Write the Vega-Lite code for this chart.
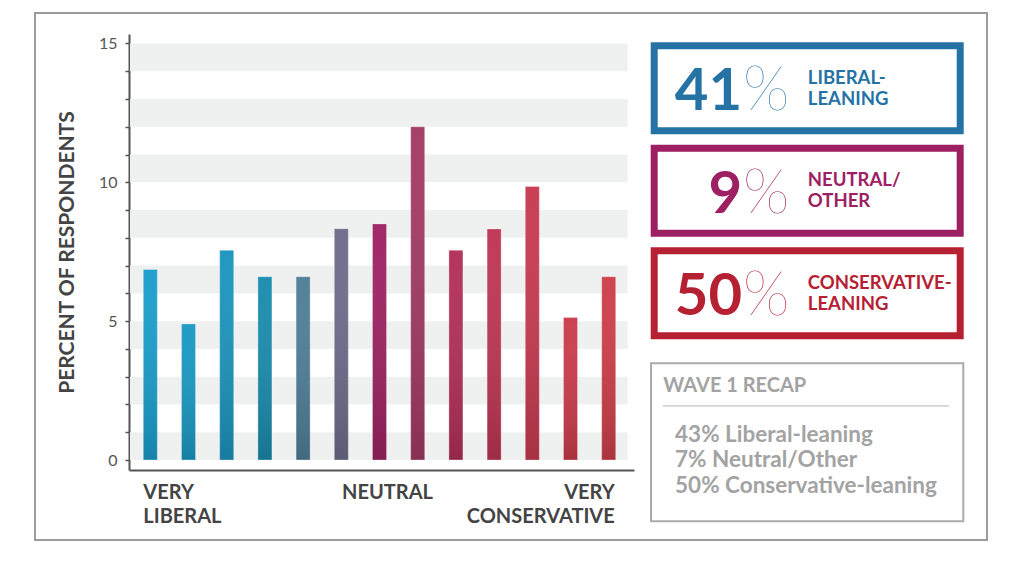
{
  "$schema": "https://vega.github.io/schema/vega-lite/v6.json",
  "width": 952,
  "height": 527,
  "autosize": {"type": "none"},
  "padding": {"left": 35, "top": 13, "right": 37, "bottom": 32},
  "background": "white",
  "config": {
    "font": "Lato",
    "view": {"stroke": "#9b9b9b", "strokeWidth": 2}
  },
  "datasets": {
    "bars": [
      {"position": 1, "pct": 6.86},
      {"position": 2, "pct": 4.9},
      {"position": 3, "pct": 7.55},
      {"position": 4, "pct": 6.6},
      {"position": 5, "pct": 6.6},
      {"position": 6, "pct": 8.33},
      {"position": 7, "pct": 8.5},
      {"position": 8, "pct": 12.0},
      {"position": 9, "pct": 7.55},
      {"position": 10, "pct": 8.32},
      {"position": 11, "pct": 9.85},
      {"position": 12, "pct": 5.13},
      {"position": 13, "pct": 6.6}
    ],
    "stripes": [
      {"from": 0, "to": 1}, {"from": 2, "to": 3}, {"from": 4, "to": 5}, {"from": 6, "to": 7},
      {"from": 8, "to": 9}, {"from": 10, "to": 11}, {"from": 12, "to": 13}, {"from": 14, "to": 15}
    ],
    "wave2": [
      {"group": "Liberal-leaning", "pct": 41, "label": ["LIBERAL-", "LEANING"]},
      {"group": "Neutral/Other", "pct": 9, "label": ["NEUTRAL/", "OTHER"]},
      {"group": "Conservative-leaning", "pct": 50, "label": ["CONSERVATIVE-", "LEANING"]}
    ],
    "wave1": [
      {"group": "Liberal-leaning", "pct": 43, "text": "43% Liberal-leaning"},
      {"group": "Neutral/Other", "pct": 7, "text": "7% Neutral/Other"},
      {"group": "Conservative-leaning", "pct": 50, "text": "50% Conservative-leaning"}
    ]
  },
  "layer": [
    {
      "layer": [
        {
          "data": {"name": "stripes"},
          "mark": {"type": "rect", "color": "#eff1f1"},
          "encoding": {
            "x": {"datum": 0, "type": "quantitative", "scale": {"domain": [0, 1], "range": [95, 592.7]}, "axis": null},
            "x2": {"datum": 1},
            "y": {"field": "from", "type": "quantitative",
              "scale": {"domain": [-0.36, 15.34], "range": [457, 21], "nice": false, "zero": false},
              "axis": {"title": "PERCENT OF RESPONDENTS", "titleFont": "Lato", "titleFontSize": 21, "titleFontWeight": "bold", "titleColor": "#444444", "titlePadding": 21,
                "values": [0,1,2,3,4,5,6,7,8,9,10,11,12,13,14,15],
                "labelExpr": "datum.value % 5 == 0 ? datum.label : ''",
                "labelFontSize": 16, "labelColor": "#555555", "labelPadding": 8, "labelOverlap": false, "labelFlush": false,
                "tickSize": 4, "tickColor": "#555555", "tickWidth": 1.5, "domainColor": "#555555", "domainWidth": 2, "grid": false, "offset": -94}},
            "y2": {"field": "to"}
          }
        },
        {
          "data": {"name": "bars"},
          "encoding": {
            "x": {"field": "position", "type": "ordinal",
              "scale": {"type": "band", "range": [94, 599], "paddingInner": 0.6335, "paddingOuter": 0.4267, "align": 0.439},
              "axis": {"title": null, "labelAngle": 0, "labelBaseline": "top",
                "labelExpr": "datum.value == 1 ? ['VERY', 'LIBERAL'] : datum.value == 7 ? 'NEUTRAL' : datum.value == 13 ? ['VERY', 'CONSERVATIVE'] : ''",
                "labelAlign": {"condition": [{"test": "datum.value == 1", "value": "left"}, {"test": "datum.value == 13", "value": "right"}], "value": "center"},
                "labelOffset": {"condition": [{"test": "datum.value == 1", "value": -7}, {"test": "datum.value == 13", "value": 6}], "value": 8},
                "labelFontSize": 20, "labelFontWeight": "bold", "labelColor": "#444444", "labelPadding": 12, "labelLineHeight": 24.6, "labelOverlap": false,
                "ticks": false, "tickSize": 0, "domainColor": "#555555", "domainWidth": 2, "offset": -70}},
            "y": {"field": "pct", "type": "quantitative",
              "scale": {"domain": [-0.36, 15.34], "range": [457, 21], "nice": false, "zero": false},
              "axis": {"title": "PERCENT OF RESPONDENTS", "titleFont": "Lato", "titleFontSize": 21, "titleFontWeight": "bold", "titleColor": "#444444", "titlePadding": 21,
                "values": [0,1,2,3,4,5,6,7,8,9,10,11,12,13,14,15],
                "labelExpr": "datum.value % 5 == 0 ? datum.label : ''",
                "labelFontSize": 16, "labelColor": "#555555", "labelPadding": 8, "labelOverlap": false, "labelFlush": false,
                "tickSize": 4, "tickColor": "#555555", "tickWidth": 1.5, "domainColor": "#555555", "domainWidth": 2, "grid": false, "offset": -94}},
            "y2": {"datum": 0}
          },
          "layer": [
            {
              "mark": {"type": "bar"},
              "encoding": {
                "color": {"field": "position", "type": "ordinal", "legend": null,
                  "scale": {"domain": [1,2,3,4,5,6,7,8,9,10,11,12,13],
                    "range": ["#1a9ecb", "#1a99c3", "#1b95bd", "#1a8cae", "#4f7e98", "#6f6c8c", "#9e2363", "#a33a64", "#b22f59", "#be3554", "#c83a50", "#cb3c4b", "#cd3f49"]}}
              }
            },
            {
              "mark": {"type": "bar", "stroke": "white", "strokeOpacity": 0.3, "strokeWidth": 1,
                "color": {"gradient": "linear", "x1": 0, "y1": 0, "x2": 0, "y2": 1,
                  "stops": [{"offset": 0, "color": "rgba(255,255,255,0.03)"}, {"offset": 1, "color": "rgba(0,0,0,0.17)"}]}}
            }
          ]
        }
      ],
      "resolve": {"scale": {"x": "independent"}, "axis": {"x": "independent"}}
    },
    {
      "data": {"name": "wave2"},
      "encoding": {
        "y": {"field": "group", "type": "nominal", "axis": null,
          "scale": {"type": "band", "domain": ["Liberal-leaning", "Neutral/Other", "Conservative-leaning"], "range": [32.8, 322.8], "paddingInner": 0.171, "paddingOuter": 0}},
        "color": {"field": "group", "type": "nominal", "legend": null,
          "scale": {"domain": ["Liberal-leaning", "Neutral/Other", "Conservative-leaning"], "range": ["#2573a5", "#9d2062", "#b52133"]}}
      },
      "layer": [
        {
          "mark": {"type": "rect", "filled": false, "strokeWidth": 7},
          "encoding": {
            "x": {"datum": 0, "type": "quantitative", "scale": {"domain": [0, 100], "range": [619.2, 925.2]}, "axis": null},
            "x2": {"datum": 100}
          }
        },
        {
          "mark": {"type": "text", "align": "right", "baseline": "alphabetic", "dy": 21.7, "fontSize": 58, "fontWeight": "bold"},
          "encoding": {
            "x": {"datum": 28.7, "type": "quantitative", "scale": {"domain": [0, 100], "range": [619.2, 925.2]}, "axis": null},
            "text": {"field": "pct", "type": "quantitative"}
          }
        },
        {
          "mark": {"type": "text", "align": "left", "baseline": "alphabetic", "dy": 21.7, "fontSize": 61, "fontWeight": 100},
          "encoding": {
            "x": {"datum": 29.0, "type": "quantitative", "scale": {"domain": [0, 100], "range": [619.2, 925.2]}, "axis": null},
            "text": {"value": "%"}
          }
        },
        {
          "mark": {"type": "text", "align": "left", "baseline": "alphabetic", "dy": -4.4, "lineHeight": 21, "fontSize": 18.5, "fontWeight": "bold"},
          "encoding": {
            "x": {"datum": 50.2, "type": "quantitative", "scale": {"domain": [0, 100], "range": [619.2, 925.2]}, "axis": null},
            "text": {"field": "label", "type": "nominal"}
          }
        }
      ]
    },
    {
      "data": {"values": [{"title": "WAVE 1 RECAP"}]},
      "layer": [
        {
          "mark": {"type": "rect", "filled": false, "stroke": "#aaaaaa", "strokeWidth": 2},
          "encoding": {
            "x": {"datum": 0, "type": "quantitative", "scale": {"domain": [0, 100], "range": [616, 928.3]}, "axis": null},
            "x2": {"datum": 100},
            "y": {"datum": 0, "type": "quantitative", "scale": {"domain": [0, 100], "range": [350.3, 508.3]}, "axis": null},
            "y2": {"datum": 100}
          }
        },
        {
          "mark": {"type": "text", "align": "left", "baseline": "alphabetic", "fontSize": 20, "fontWeight": "bold", "color": "#a3a3a3"},
          "encoding": {
            "x": {"datum": 3.9, "type": "quantitative", "scale": {"domain": [0, 100], "range": [616, 928.3]}, "axis": null},
            "y": {"datum": 18.4, "type": "quantitative", "scale": {"domain": [0, 100], "range": [350.3, 508.3]}, "axis": null},
            "text": {"field": "title", "type": "nominal"}
          }
        },
        {
          "mark": {"type": "rule", "color": "#b5b5b5", "strokeWidth": 1},
          "encoding": {
            "x": {"datum": 3.8, "type": "quantitative", "scale": {"domain": [0, 100], "range": [616, 928.3]}, "axis": null},
            "x2": {"datum": 95.4},
            "y": {"datum": 27, "type": "quantitative", "scale": {"domain": [0, 100], "range": [350.3, 508.3]}, "axis": null}
          }
        }
      ]
    },
    {
      "data": {"name": "wave1"},
      "mark": {"type": "text", "align": "left", "baseline": "alphabetic", "fontSize": 22.5, "fontWeight": "bold", "color": "#a3a3a3"},
      "encoding": {
        "x": {"datum": 7.7, "type": "quantitative", "scale": {"domain": [0, 100], "range": [616, 928.3]}, "axis": null},
        "y": {"field": "group", "type": "nominal", "axis": null,
          "scale": {"type": "point", "domain": ["Liberal-leaning", "Neutral/Other", "Conservative-leaning"], "range": [429, 479.7], "padding": 0}},
        "text": {"field": "text", "type": "nominal"}
      }
    }
  ],
  "resolve": {
    "scale": {"x": "independent", "y": "independent", "color": "independent"},
    "axis": {"x": "independent", "y": "independent"}
  }
}
